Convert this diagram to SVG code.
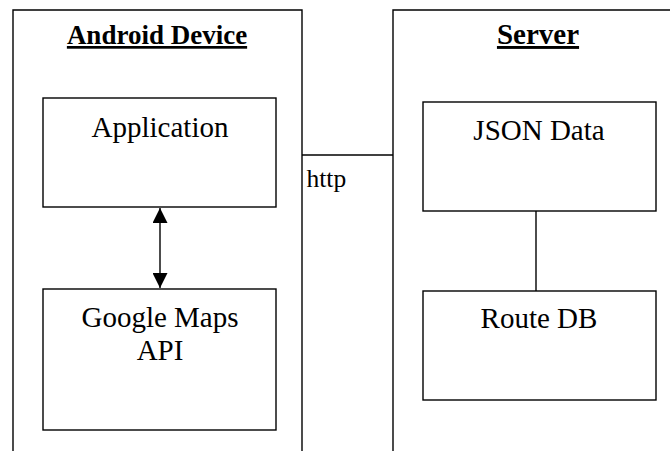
<svg xmlns="http://www.w3.org/2000/svg" width="670" height="451" viewBox="0 0 670 451">
<style>
.box{fill:#fff;stroke:#000;stroke-width:1.4}
.frame{fill:none;stroke:#000;stroke-width:1.4}
.t{font-family:'Liberation Serif','Times New Roman','DejaVu Serif',serif;font-size:29px;fill:#000;text-anchor:middle}
.h{font-family:'Liberation Serif','Times New Roman','DejaVu Serif',serif;font-weight:bold;fill:#000;text-anchor:middle;text-decoration:underline}
.c{stroke:#000;stroke-width:1.4;fill:none}
</style>
<defs>
<marker id="ah" viewBox="0 0 10 10" refX="10" refY="5" markerWidth="15" markerHeight="15" markerUnits="userSpaceOnUse" orient="auto-start-reverse">
<path d="M0,0 L10,5 L0,10 z" fill="#000"/>
</marker>
</defs>
<rect width="670" height="451" fill="#fff"/>
<g id="android">
<path class="frame" d="M13,452 V10 H302 V452"/>
<text class="h" x="157" y="44" font-size="27">Android Device</text>
</g>
<g id="server">
<path class="frame" d="M393,452 V10 H672"/>
<text class="h" x="538" y="44" font-size="29">Server</text>
</g>
<g id="application">
<rect class="box" x="43" y="98" width="233" height="109"/>
<text class="t" x="160" y="137">Application</text>
</g>
<g id="googlemaps">
<rect class="box" x="43" y="289" width="233" height="141"/>
<text class="t" x="160" y="327">Google Maps</text>
<text class="t" x="160" y="360">API</text>
</g>
<g id="json">
<rect class="box" x="423" y="102" width="233" height="109"/>
<text class="t" x="539" y="140">JSON Data</text>
</g>
<g id="routedb">
<rect class="box" x="423" y="291" width="233" height="109"/>
<text class="t" x="539" y="328">Route DB</text>
</g>
<g id="connectors">
<line class="c" x1="160" y1="208" x2="160" y2="288" marker-start="url(#ah)" marker-end="url(#ah)"/>
<line class="c" x1="302" y1="155" x2="393" y2="155"/>
<line class="c" x1="536" y1="211" x2="536" y2="291"/>
<text x="306.5" y="187" font-family="'Liberation Serif','Times New Roman','DejaVu Serif',serif" font-size="25.5" fill="#000">http</text>
</g>
</svg>
